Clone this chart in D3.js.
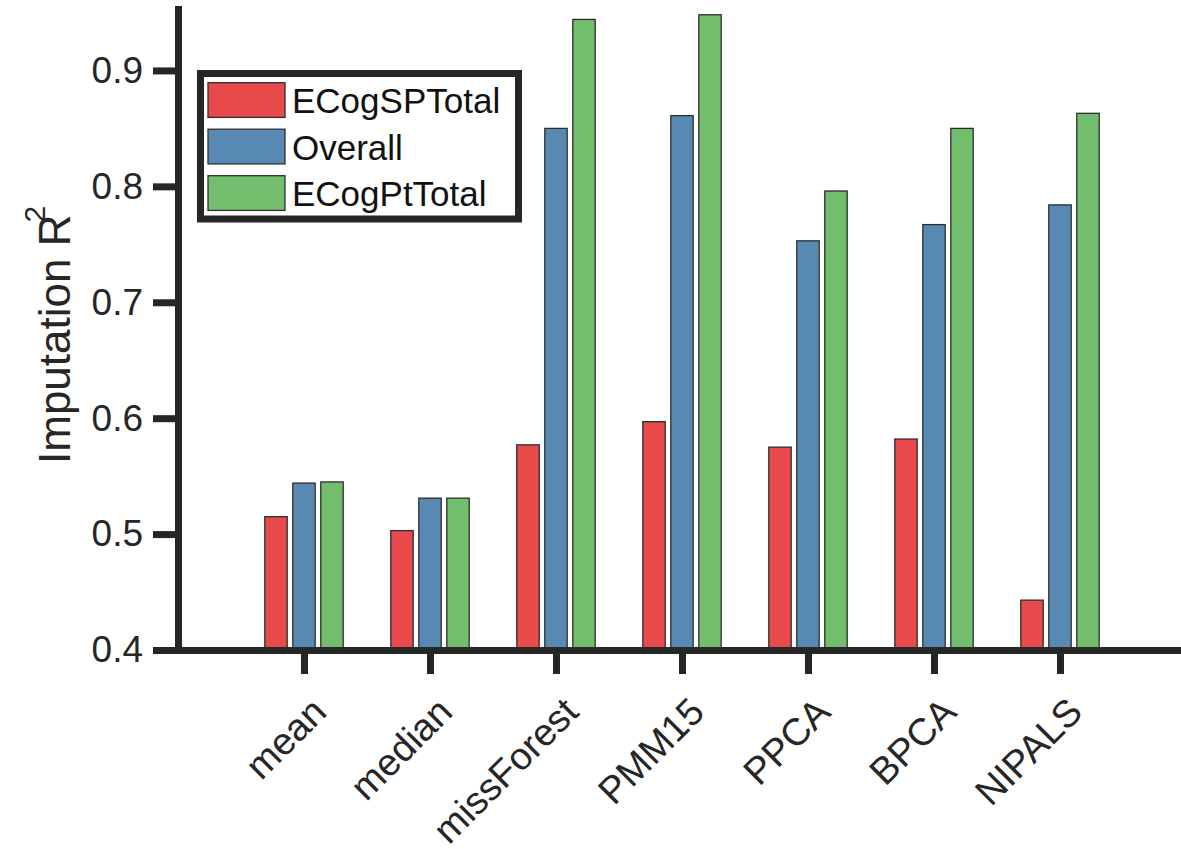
<!DOCTYPE html>
<html>
<head>
<meta charset="utf-8">
<script src="https://cdn.jsdelivr.net/npm/d3@7"></script>
<style>
  body { margin: 0; background: #fff; }
  svg text { font-family: "Liberation Sans", Arial, Helvetica, sans-serif; fill: #262626; }
</style>
</head>
<body>
<svg id="chart" width="1181" height="849"></svg>
<script>
// imputation methods on the x axis
const methods = ['mean', 'median', 'missForest', 'PMM15', 'PPCA', 'BPCA', 'NIPALS'];
const seriesNames = ['ECogSPTotal', 'Overall', 'ECogPtTotal'];
const seriesColors = ['#e8494a', '#5889b2', '#72be6c'];

// R^2 per method
const ecogSPTotal = [0.515, 0.503, 0.577, 0.597, 0.575, 0.582, 0.443];
const overall = [0.544, 0.531, 0.850, 0.861, 0.753, 0.767, 0.784];
const ecogPtTotal = [0.545, 0.531, 0.944, 0.948, 0.796, 0.850, 0.863];

const yTicks = [0.4, 0.5, 0.6, 0.7, 0.8, 0.9];
const yDomain = [0.4, 0.953];

const seriesValues = [ecogSPTotal, overall, ecogPtTotal];
const rows = [];
methods.forEach((m, i) => {
    seriesNames.forEach((s, j) => rows.push({ method: m, series: s, value: seriesValues[j][i], color: seriesColors[j] }));
});

const svg = d3.select('#chart');
const axisColor = '#262626';

const x = d3.scalePoint().domain(methods).range([178, 1186]).padding(1);
const xs = d3.scaleBand().domain(seriesNames).range([-42, 42]).paddingInner(0.2).paddingOuter(0.1);
const y = d3.scaleLinear().domain(yDomain).range([650, 9]);

// bars
svg.append('g')
    .selectAll('rect')
    .data(rows)
    .join('rect')
    .attr('x', (d) => x(d.method) + xs(d.series))
    .attr('width', xs.bandwidth())
    .attr('y', (d) => y(d.value))
    .attr('height', (d) => y(yDomain[0]) - y(d.value))
    .attr('fill', (d) => d.color)
    .attr('stroke', '#2e2e2e')
    .attr('stroke-width', 1.3);

// y axis
const yAxis = svg.append('g')
    .attr('transform', 'translate(178,0)')
    .call(d3.axisLeft(y).tickValues(yTicks).tickSize(25).tickSizeOuter(0).tickPadding(10).tickFormat(d3.format('.1f')));
yAxis.select('.domain').attr('stroke', axisColor).attr('stroke-width', 7).attr('stroke-linecap', 'square');
yAxis.selectAll('.tick line').attr('stroke', axisColor).attr('stroke-width', 7);
yAxis.selectAll('.tick text').attr('font-size', 37).style('fill', axisColor);

// x axis
const xAxis = svg.append('g')
    .attr('transform', 'translate(0,650)')
    .call(d3.axisBottom(x).tickSize(24).tickSizeOuter(0));
xAxis.select('.domain').attr('stroke', axisColor).attr('stroke-width', 7);
xAxis.selectAll('.tick line').attr('stroke', axisColor).attr('stroke-width', 7);
xAxis.selectAll('.tick text')
    .attr('x', 0).attr('y', 0).attr('dy', null)
    .attr('text-anchor', 'end')
    .attr('transform', 'translate(24,64) rotate(-45)')
    .attr('font-size', 38)
    .style('fill', axisColor);

// y label with superscript
const ylab = svg.append('text')
    .attr('transform', 'translate(70,464) rotate(-90)')
    .attr('font-size', 44)
    .text('Imputation R');
ylab.append('tspan').attr('font-size', 30).attr('dx', -8).attr('dy', -25).text('2');

// legend
const legend = svg.append('g');
legend.append('rect')
    .attr('x', 200.5).attr('y', 73.5)
    .attr('width', 318).attr('height', 145.5)
    .attr('fill', '#fff')
    .attr('stroke', axisColor)
    .attr('stroke-width', 7);
const item = legend.selectAll('g.item')
    .data(seriesNames)
    .join('g')
    .attr('class', 'item')
    .attr('transform', (d, i) => 'translate(208,' + (82.7 + i * 46.5) + ')');
item.append('rect')
    .attr('width', 77).attr('height', 34.7)
    .attr('fill', (d, i) => seriesColors[i])
    .attr('stroke', '#2e2e2e')
    .attr('stroke-width', 1.3);
item.append('text')
    .attr('x', 84).attr('y', 30.5)
    .attr('font-size', 35)
    .style('fill', '#111')
    .text((d) => d);
</script>
</body>
</html>
